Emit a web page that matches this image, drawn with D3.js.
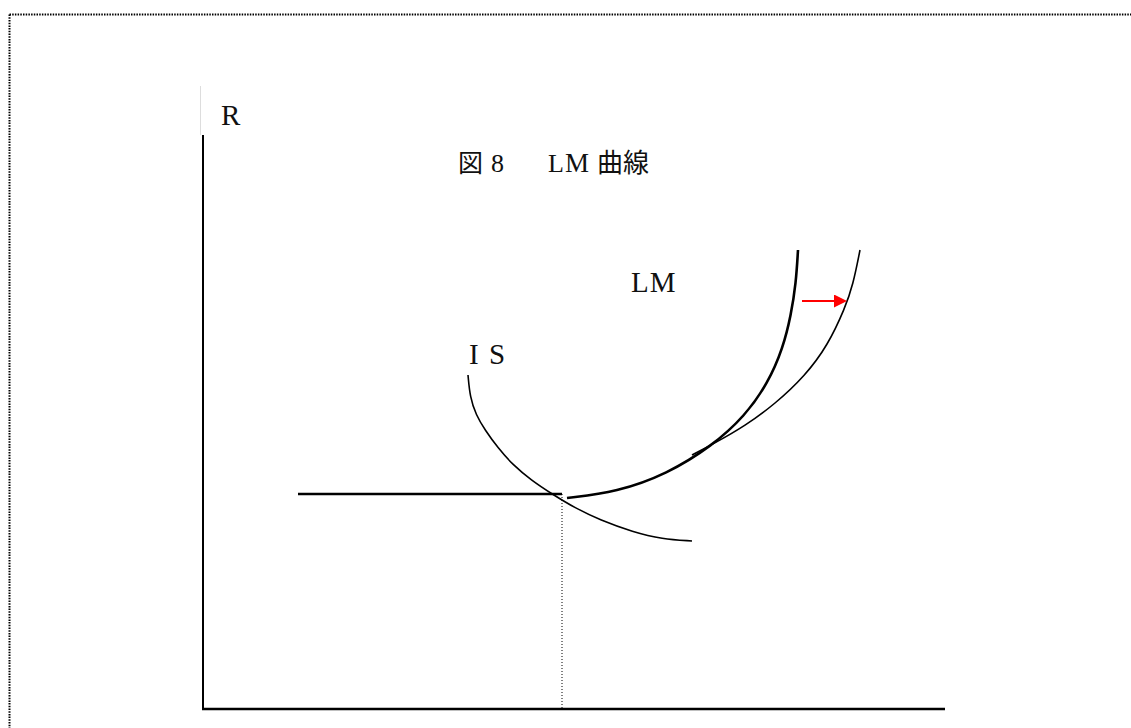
<!DOCTYPE html>
<html>
<head>
<meta charset="utf-8">
<script src="https://cdn.jsdelivr.net/npm/d3@7"></script>
<style>
  body { margin: 0; background: #fff; }
</style>
</head>
<body>
<svg id="chart" width="1131" height="728"></svg>
<script>
// curve points, in axis units (x right of the R axis, y above the Y axis)
var isCurve = [[265, 334], [267, 312], [273, 294], [282, 279], [295, 261], [310, 244], [328, 229], [349, 215], [372, 201], [397, 189], [430, 177], [459, 170], [489, 168]];
var lmCurve = [[364, 211], [414, 217], [464, 235], [509, 263], [542, 293], [565, 326], [580, 361], [588, 394], [593, 426], [595, 459]];
var lmShifted = [[489, 254], [512, 266], [542, 283], [572, 305], [602, 333], [625, 364], [642, 401], [650, 424], [657, 459]];
var flatPart = [[95, 215], [359, 215]];
var equilibrium = [[359, 215], [359, 0]];
var shiftArrow = [[599, 408], [645, 408]];

var svg = d3.select("#chart");

var x = d3.scaleLinear().domain([0, 742]).range([203, 945]);
var y = d3.scaleLinear().domain([0, 574]).range([709, 135]);

// dotted frame
svg.append("rect")
    .attr("x", 9.5).attr("y", 14.5)
    .attr("width", 1140).attr("height", 740)
    .attr("fill", "none")
    .attr("stroke", "#000")
    .attr("stroke-width", 2)
    .attr("stroke-dasharray", "1.5 1.2");

// faint line above the axis
svg.append("line")
    .attr("x1", 200.5).attr("x2", 200.5)
    .attr("y1", 86).attr("y2", 135)
    .attr("stroke", "#ddd");

// axes
svg.append("path")
    .attr("d", "M" + x(0) + "," + y(0) + "V" + y(574))
    .attr("stroke", "#000").attr("stroke-width", 2).attr("fill", "none");
svg.append("path")
    .attr("d", "M" + (x(0) - 1) + "," + y(0) + "H" + x(742))
    .attr("stroke", "#000").attr("stroke-width", 2.5).attr("fill", "none");

var line = d3.line()
    .x(function (d) { return x(d[0]); })
    .y(function (d) { return y(d[1]); })
    .curve(d3.curveBasis);

var straight = d3.line()
    .x(function (d) { return x(d[0]); })
    .y(function (d) { return y(d[1]); });

svg.append("path").attr("d", line(isCurve))
    .attr("fill", "none").attr("stroke", "#000").attr("stroke-width", 1.6);
svg.append("path").attr("d", line(lmShifted))
    .attr("fill", "none").attr("stroke", "#000").attr("stroke-width", 1.6);
svg.append("path").attr("d", line(lmCurve))
    .attr("fill", "none").attr("stroke", "#000").attr("stroke-width", 2.6);
svg.append("path").attr("d", straight(flatPart))
    .attr("fill", "none").attr("stroke", "#000").attr("stroke-width", 2.6);
svg.append("path").attr("d", straight(equilibrium))
    .attr("fill", "none").attr("stroke", "#000").attr("stroke-width", 1)
    .attr("stroke-dasharray", "1 2");

// red arrow
svg.append("defs").append("marker")
    .attr("id", "head")
    .attr("viewBox", "0 0 10 10")
    .attr("refX", 0).attr("refY", 5)
    .attr("markerWidth", 14).attr("markerHeight", 13)
    .attr("markerUnits", "userSpaceOnUse")
    .attr("orient", "auto")
    .append("path").attr("d", "M0,0L10,5L0,10Z").attr("fill", "red");
svg.append("path")
    .attr("d", "M" + x(shiftArrow[0][0]) + "," + y(shiftArrow[0][1]) + "H" + (x(shiftArrow[1][0]) - 14))
    .attr("stroke", "red").attr("stroke-width", 2)
    .attr("marker-end", "url(#head)");

// labels
var serif = "'Liberation Serif', 'DejaVu Serif', serif";
var cjk = "'Noto Sans CJK JP', sans-serif";

svg.append("text").attr("x", 221).attr("y", 125)
    .attr("font-family", serif).attr("font-size", 29).attr("fill", "#111").text("R");

svg.append("text").attr("x", 631).attr("y", 292)
    .attr("font-family", serif).attr("font-size", 29).attr("fill", "#111")
    .attr("letter-spacing", 1).text("LM");

svg.append("text").attr("x", 469).attr("y", 364)
    .attr("font-family", serif).attr("font-size", 29).attr("fill", "#111").text("I");
svg.append("text").attr("x", 489).attr("y", 364)
    .attr("font-family", serif).attr("font-size", 29).attr("fill", "#111").text("S");

var title = svg.append("text").attr("y", 172).attr("fill", "#111");
title.append("tspan").attr("x", 458).attr("font-family", cjk).attr("font-size", 25).text("図");
title.append("tspan").attr("x", 491).attr("font-family", serif).attr("font-size", 26).text("8");
title.append("tspan").attr("x", 548).attr("font-family", serif).attr("font-size", 26).text("L");
title.append("tspan").attr("x", 565).attr("font-family", serif).attr("font-size", 27).text("M");
title.append("tspan").attr("x", 597).attr("font-family", cjk).attr("font-size", 26).text("曲線");
</script>
</body>
</html>
